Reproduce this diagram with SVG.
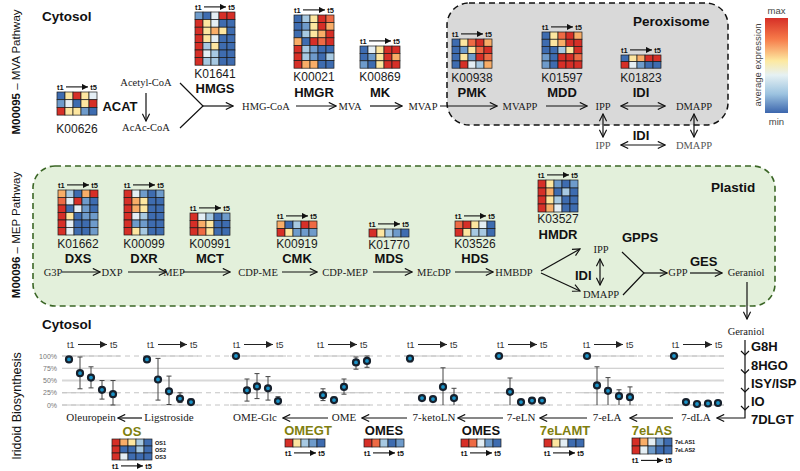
<svg xmlns="http://www.w3.org/2000/svg" width="800" height="471" viewBox="0 0 800 471">
<defs>
<style>
.R{fill:#d62f27}.O{fill:#ee6a44}.o{fill:#f8ad68}.Y{fill:#fde6a0}.W{fill:#e4eef4}.L{fill:#a7c9e2}.M{fill:#6e9bcb}.B{fill:#3e6cb0}
.hm rect{stroke:#1a1a1a;stroke-width:0.7}
.cmp{font-family:"Liberation Serif","Times New Roman",serif;font-size:10.5px;fill:#1a1a1a;text-anchor:middle}
.cmp2{font-family:"Liberation Serif","Times New Roman",serif;font-size:11px;fill:#1a1a1a;text-anchor:middle}
.gr{fill:#555}
.k{font-family:"Liberation Sans",Arial,sans-serif;font-size:12px;fill:#1a1a1a;text-anchor:middle}
.enz{font-family:"Liberation Sans",Arial,sans-serif;font-size:13px;font-weight:bold;fill:#111;text-anchor:middle}
.enzl{font-family:"Liberation Sans",Arial,sans-serif;font-size:13px;font-weight:bold;fill:#111}
.olive{fill:#7f7f0f}
.ttl{font-family:"Liberation Sans",Arial,sans-serif;font-size:13.5px;font-weight:bold;fill:#111}
.vt{font-family:"Liberation Sans",Arial,sans-serif;font-size:11.5px;fill:#111;text-anchor:middle}
.hd{font-family:"Liberation Sans",Arial,sans-serif;font-size:7.5px;font-weight:bold;fill:#111}
.sm{font-family:"Liberation Sans",Arial,sans-serif;font-size:5.5px;font-weight:bold;fill:#111}
.ph{font-family:"Liberation Sans",Arial,sans-serif;font-size:9px;fill:#333}
.ax{font-family:"Liberation Sans",Arial,sans-serif;font-size:7px;fill:#777;text-anchor:end}
.lg{font-family:"Liberation Sans",Arial,sans-serif;font-size:9.5px;fill:#444;text-anchor:middle}
.a{fill:none;stroke:#111;stroke-width:1.2;marker-end:url(#ah)}
.a2{fill:none;stroke:#111;stroke-width:1.2;marker-end:url(#ah);marker-start:url(#ah)}
.ln{fill:none;stroke:#111;stroke-width:1.2}
.pt{fill:#1a93c8;stroke:#17202c;stroke-width:2.2}
.eb{fill:none;stroke:#444;stroke-width:1}
.gd{fill:none;stroke:#c4c4c4;stroke-width:1}
.gdd{fill:none;stroke:#c4c4c4;stroke-width:1;stroke-dasharray:5 4}
</style>
<marker id="ah" viewBox="0 0 10 10" refX="9" refY="5" markerWidth="9" markerHeight="9" markerUnits="userSpaceOnUse" orient="auto-start-reverse"><path d="M1,1 L9,5 L1,9" fill="none" stroke="#111" stroke-width="1.3"/></marker>
<marker id="tri" viewBox="0 0 10 10" refX="10" refY="5" markerWidth="6" markerHeight="6" markerUnits="userSpaceOnUse" orient="auto"><path d="M0,0 L10,5 L0,10z" fill="#111"/></marker>
<marker id="tri2" viewBox="0 0 10 10" refX="10" refY="5" markerWidth="7" markerHeight="7" markerUnits="userSpaceOnUse" orient="auto"><path d="M0,0 L10,5 L0,10z" fill="#222"/></marker>
<g id="hh"><text class="hd" x="0" y="0">t1</text><line x1="9" y1="-2.6" x2="31" y2="-2.6" stroke="#111" stroke-width="1.1" marker-end="url(#tri)"/><text class="hd" x="40" y="0" text-anchor="end">t5</text></g>
<g id="ph"><text class="ph" x="0" y="0">t1</text><line x1="11" y1="-3" x2="40" y2="-3" stroke="#222" stroke-width="1" marker-end="url(#tri2)"/><text class="ph" x="43" y="0">t5</text></g>
<linearGradient id="cb" x1="0" y1="0" x2="0" y2="1">
<stop offset="0" stop-color="#d62f27"/><stop offset="0.22" stop-color="#f67a49"/><stop offset="0.45" stop-color="#fde9a0"/><stop offset="0.6" stop-color="#e6f1f3"/><stop offset="0.8" stop-color="#9cc3e0"/><stop offset="1" stop-color="#3c66ad"/>
</linearGradient>
</defs>
<rect width="800" height="471" fill="#fff"/>

<!-- compartments -->
<g id="peroxisome">
<rect x="447" y="3" width="281" height="122" rx="22" fill="#d9d9d9" stroke="#111" stroke-width="1.5" stroke-dasharray="6 4"/>
<text class="ttl" x="633" y="26">Peroxisome</text>
</g>
<g id="plastid">
<rect x="33" y="166" width="742" height="140" rx="22" fill="#e3f0db" stroke="#3b6626" stroke-width="1.6" stroke-dasharray="6 4"/>
<text class="ttl" x="711" y="192">Plastid</text>
</g>
<g id="labels">
<text class="ttl" x="42" y="21">Cytosol</text>
<text class="ttl" x="42" y="328.5">Cytosol</text>
<text class="vt" transform="translate(19.5,72) rotate(-90)"><tspan font-weight="bold">M00095</tspan> – MVA Pathway</text>
<text class="vt" transform="translate(19.5,235) rotate(-90)"><tspan font-weight="bold">M00096</tspan> – MEP Pathway</text>
<text class="vt" style="font-size:12.5px" transform="translate(21,406) rotate(-90)">Iridoid Biosynthesis</text>
</g>

<!-- legend -->
<g id="legend">
<rect x="765" y="18" width="23" height="95" fill="url(#cb)"/>
<text class="lg" x="776.5" y="14">max</text>
<text class="lg" x="776.5" y="125">min</text>
<text class="lg" transform="translate(761,65) rotate(-90)">average expression</text>
</g>

<!-- connectors -->
<g id="connectors">
<path class="a" d="M146,93 V121"/>
<path class="ln" d="M180,83 L203,106 L180,128"/>
<path class="a" d="M203,106 H233"/>
<path class="a" d="M296,106 H336"/>
<path class="a" d="M370,106 H402"/>
<path class="a" d="M440,106 H497"/>
<path class="a" d="M546,106 H587"/>
<path class="a2" d="M621,106 H665"/>
<path class="a2" d="M603,114 V137"/>
<path class="a2" d="M694,114 V137"/>
<path class="a2" d="M621,145 H665"/>
<path class="a" d="M62,272 H100"/>
<path class="a" d="M128,272 H166"/>
<path class="a" d="M183,272 H230"/>
<path class="a" d="M282,272 H317"/>
<path class="a" d="M373,272 H412"/>
<path class="a" d="M455,272 H493"/>
<path class="a" d="M541,271 L580,249"/>
<path class="a" d="M541,273 L580,291"/>
<path class="a2" d="M600,259 V285"/>
<path class="ln" d="M622,252 L644,273 L623,295"/>
<path class="a" d="M644,273 H667"/>
<path class="a" d="M690,273 H722"/>
<path class="a" d="M747,282 V319"/>
<path class="a" d="M142,418 H118"/>
<path class="a" d="M328,418 H283"/>
<path class="a" d="M407,418 H362"/>
<path class="a" d="M503,418 H458"/>
<path class="a" d="M587,418 H540"/>
<path class="a" d="M673,418 H630"/>
<path class="a" d="M745,340 V418 H717"/>
<path class="ln" d="M741,351 L745,355 L749,351 M741,369.5 L745,373.5 L749,369.5 M741,388 L745,392 L749,388 M741,406 L745,410 L749,406"/>
</g>

<!-- MVA compounds -->
<g id="acetylcoa"><text class="cmp" x="146" y="86">Acetyl-CoA</text></g>
<g id="acaccoa"><text class="cmp" x="146" y="131">AcAc-CoA</text></g>
<g id="hmgcoa"><text class="cmp" x="266" y="109.5">HMG-CoA</text></g>
<g id="mva"><text class="cmp" x="350" y="109.5">MVA</text></g>
<g id="mvap"><text class="cmp" x="423" y="109.5">MVAP</text></g>
<g id="mvapp"><text class="cmp" x="520" y="109.5">MVAPP</text></g>
<g id="ipp_per"><text class="cmp" x="603" y="109.5">IPP</text></g>
<g id="dmapp_per"><text class="cmp" x="694" y="109.5">DMAPP</text></g>
<g id="ipp_cyt"><text class="cmp gr" x="603" y="148.5">IPP</text></g>
<g id="dmapp_cyt"><text class="cmp gr" x="694" y="148.5">DMAPP</text></g>
<g id="idi_cyt"><text class="enz" x="641" y="140">IDI</text></g>

<!-- MVA enzymes -->
<g id="acat">
<use href="#hh" x="57" y="89.5"/>
<g class="hm" transform="translate(57,92)">
<rect x="0" y="0" width="8" height="7.7" class="B"/><rect x="8" y="0" width="8" height="7.7" class="Y"/><rect x="16" y="0" width="8" height="7.7" class="R"/><rect x="24" y="0" width="8" height="7.7" class="Y"/><rect x="32" y="0" width="8" height="7.7" class="W"/>
<rect x="0" y="7.7" width="8" height="7.7" class="M"/><rect x="8" y="7.7" width="8" height="7.7" class="W"/><rect x="16" y="7.7" width="8" height="7.7" class="B"/><rect x="24" y="7.7" width="8" height="7.7" class="Y"/><rect x="32" y="7.7" width="8" height="7.7" class="R"/>
<rect x="0" y="15.4" width="8" height="7.7" class="R"/><rect x="8" y="15.4" width="8" height="7.7" class="Y"/><rect x="16" y="15.4" width="8" height="7.7" class="Y"/><rect x="24" y="15.4" width="8" height="7.7" class="M"/><rect x="32" y="15.4" width="8" height="7.7" class="B"/>
</g>
<text class="k" x="77" y="133">K00626</text>
<text class="enz" x="120" y="111">ACAT</text>
</g>

<g id="hmgs">
<use href="#hh" x="195" y="9.5"/>
<g class="hm" transform="translate(195,12)">
<rect x="0" y="0" width="8" height="7.6" class="M"/><rect x="8" y="0" width="8" height="7.6" class="B"/><rect x="16" y="0" width="8" height="7.6" class="W"/><rect x="24" y="0" width="8" height="7.6" class="R"/><rect x="32" y="0" width="8" height="7.6" class="R"/>
<rect x="0" y="7.6" width="8" height="7.6" class="R"/><rect x="8" y="7.6" width="8" height="7.6" class="Y"/><rect x="16" y="7.6" width="8" height="7.6" class="W"/><rect x="24" y="7.6" width="8" height="7.6" class="B"/><rect x="32" y="7.6" width="8" height="7.6" class="B"/>
<rect x="0" y="15.2" width="8" height="7.6" class="R"/><rect x="8" y="15.2" width="8" height="7.6" class="Y"/><rect x="16" y="15.2" width="8" height="7.6" class="o"/><rect x="24" y="15.2" width="8" height="7.6" class="Y"/><rect x="32" y="15.2" width="8" height="7.6" class="B"/>
<rect x="0" y="22.8" width="8" height="7.6" class="R"/><rect x="8" y="22.8" width="8" height="7.6" class="Y"/><rect x="16" y="22.8" width="8" height="7.6" class="W"/><rect x="24" y="22.8" width="8" height="7.6" class="B"/><rect x="32" y="22.8" width="8" height="7.6" class="B"/>
<rect x="0" y="30.4" width="8" height="7.6" class="R"/><rect x="8" y="30.4" width="8" height="7.6" class="L"/><rect x="16" y="30.4" width="8" height="7.6" class="Y"/><rect x="24" y="30.4" width="8" height="7.6" class="B"/><rect x="32" y="30.4" width="8" height="7.6" class="B"/>
<rect x="0" y="38" width="8" height="7.6" class="R"/><rect x="8" y="38" width="8" height="7.6" class="W"/><rect x="16" y="38" width="8" height="7.6" class="L"/><rect x="24" y="38" width="8" height="7.6" class="B"/><rect x="32" y="38" width="8" height="7.6" class="B"/>
<rect x="0" y="45.6" width="8" height="7.6" class="R"/><rect x="8" y="45.6" width="8" height="7.6" class="L"/><rect x="16" y="45.6" width="8" height="7.6" class="L"/><rect x="24" y="45.6" width="8" height="7.6" class="B"/><rect x="32" y="45.6" width="8" height="7.6" class="B"/>
</g>
<text class="k" x="215" y="78">K01641</text>
<text class="enz" x="215" y="93">HMGS</text>
</g>

<g id="hmgr">
<use href="#hh" x="294" y="12.5"/>
<g class="hm" transform="translate(294,15)">
<rect x="0" y="0" width="8" height="7.6" class="B"/><rect x="8" y="0" width="8" height="7.6" class="L"/><rect x="16" y="0" width="8" height="7.6" class="Y"/><rect x="24" y="0" width="8" height="7.6" class="R"/><rect x="32" y="0" width="8" height="7.6" class="O"/>
<rect x="0" y="7.6" width="8" height="7.6" class="B"/><rect x="8" y="7.6" width="8" height="7.6" class="M"/><rect x="16" y="7.6" width="8" height="7.6" class="Y"/><rect x="24" y="7.6" width="8" height="7.6" class="R"/><rect x="32" y="7.6" width="8" height="7.6" class="o"/>
<rect x="0" y="15.2" width="8" height="7.6" class="B"/><rect x="8" y="15.2" width="8" height="7.6" class="L"/><rect x="16" y="15.2" width="8" height="7.6" class="Y"/><rect x="24" y="15.2" width="8" height="7.6" class="o"/><rect x="32" y="15.2" width="8" height="7.6" class="R"/>
<rect x="0" y="22.8" width="8" height="7.6" class="o"/><rect x="8" y="22.8" width="8" height="7.6" class="B"/><rect x="16" y="22.8" width="8" height="7.6" class="R"/><rect x="24" y="22.8" width="8" height="7.6" class="O"/><rect x="32" y="22.8" width="8" height="7.6" class="R"/>
<rect x="0" y="30.4" width="8" height="7.6" class="R"/><rect x="8" y="30.4" width="8" height="7.6" class="L"/><rect x="16" y="30.4" width="8" height="7.6" class="M"/><rect x="24" y="30.4" width="8" height="7.6" class="B"/><rect x="32" y="30.4" width="8" height="7.6" class="B"/>
<rect x="0" y="38" width="8" height="7.6" class="R"/><rect x="8" y="38" width="8" height="7.6" class="L"/><rect x="16" y="38" width="8" height="7.6" class="M"/><rect x="24" y="38" width="8" height="7.6" class="B"/><rect x="32" y="38" width="8" height="7.6" class="L"/>
<rect x="0" y="45.6" width="8" height="7.6" class="R"/><rect x="8" y="45.6" width="8" height="7.6" class="o"/><rect x="16" y="45.6" width="8" height="7.6" class="o"/><rect x="24" y="45.6" width="8" height="7.6" class="B"/><rect x="32" y="45.6" width="8" height="7.6" class="B"/>
</g>
<text class="k" x="314" y="81">K00021</text>
<text class="enz" x="314" y="96.5">HMGR</text>
</g>

<g id="mk">
<use href="#hh" x="360" y="43.5"/>
<g class="hm" transform="translate(360,46)">
<rect x="0" y="0" width="8" height="7.4" class="B"/><rect x="8" y="0" width="8" height="7.4" class="W"/><rect x="16" y="0" width="8" height="7.4" class="Y"/><rect x="24" y="0" width="8" height="7.4" class="R"/><rect x="32" y="0" width="8" height="7.4" class="R"/>
<rect x="0" y="7.4" width="8" height="7.4" class="B"/><rect x="8" y="7.4" width="8" height="7.4" class="M"/><rect x="16" y="7.4" width="8" height="7.4" class="Y"/><rect x="24" y="7.4" width="8" height="7.4" class="R"/><rect x="32" y="7.4" width="8" height="7.4" class="o"/>
<rect x="0" y="14.8" width="8" height="7.4" class="M"/><rect x="8" y="14.8" width="8" height="7.4" class="B"/><rect x="16" y="14.8" width="8" height="7.4" class="Y"/><rect x="24" y="14.8" width="8" height="7.4" class="R"/><rect x="32" y="14.8" width="8" height="7.4" class="R"/>
</g>
<text class="k" x="380" y="81">K00869</text>
<text class="enz" x="380" y="96.5">MK</text>
</g>

<g id="pmk">
<use href="#hh" x="452" y="36.5"/>
<g class="hm" transform="translate(452,39)">
<rect x="0" y="0" width="8" height="7.3" class="B"/><rect x="8" y="0" width="8" height="7.3" class="Y"/><rect x="16" y="0" width="8" height="7.3" class="O"/><rect x="24" y="0" width="8" height="7.3" class="R"/><rect x="32" y="0" width="8" height="7.3" class="o"/>
<rect x="0" y="7.3" width="8" height="7.3" class="B"/><rect x="8" y="7.3" width="8" height="7.3" class="M"/><rect x="16" y="7.3" width="8" height="7.3" class="Y"/><rect x="24" y="7.3" width="8" height="7.3" class="O"/><rect x="32" y="7.3" width="8" height="7.3" class="R"/>
<rect x="0" y="14.6" width="8" height="7.3" class="B"/><rect x="8" y="14.6" width="8" height="7.3" class="Y"/><rect x="16" y="14.6" width="8" height="7.3" class="M"/><rect x="24" y="14.6" width="8" height="7.3" class="R"/><rect x="32" y="14.6" width="8" height="7.3" class="O"/>
<rect x="0" y="21.9" width="8" height="7.3" class="B"/><rect x="8" y="21.9" width="8" height="7.3" class="R"/><rect x="16" y="21.9" width="8" height="7.3" class="W"/><rect x="24" y="21.9" width="8" height="7.3" class="L"/><rect x="32" y="21.9" width="8" height="7.3" class="o"/>
</g>
<text class="k" x="472" y="81.5">K00938</text>
<text class="enz" x="472" y="97">PMK</text>
</g>

<g id="mdd">
<use href="#hh" x="542" y="29.5"/>
<g class="hm" transform="translate(542,32)">
<rect x="0" y="0" width="8" height="7.25" class="B"/><rect x="8" y="0" width="8" height="7.25" class="Y"/><rect x="16" y="0" width="8" height="7.25" class="O"/><rect x="24" y="0" width="8" height="7.25" class="R"/><rect x="32" y="0" width="8" height="7.25" class="o"/>
<rect x="0" y="7.25" width="8" height="7.25" class="B"/><rect x="8" y="7.25" width="8" height="7.25" class="Y"/><rect x="16" y="7.25" width="8" height="7.25" class="o"/><rect x="24" y="7.25" width="8" height="7.25" class="R"/><rect x="32" y="7.25" width="8" height="7.25" class="R"/>
<rect x="0" y="14.5" width="8" height="7.25" class="B"/><rect x="8" y="14.5" width="8" height="7.25" class="B"/><rect x="16" y="14.5" width="8" height="7.25" class="L"/><rect x="24" y="14.5" width="8" height="7.25" class="Y"/><rect x="32" y="14.5" width="8" height="7.25" class="R"/>
<rect x="0" y="21.75" width="8" height="7.25" class="M"/><rect x="8" y="21.75" width="8" height="7.25" class="B"/><rect x="16" y="21.75" width="8" height="7.25" class="R"/><rect x="24" y="21.75" width="8" height="7.25" class="R"/><rect x="32" y="21.75" width="8" height="7.25" class="O"/>
<rect x="0" y="29" width="8" height="7.25" class="M"/><rect x="8" y="29" width="8" height="7.25" class="B"/><rect x="16" y="29" width="8" height="7.25" class="R"/><rect x="24" y="29" width="8" height="7.25" class="R"/><rect x="32" y="29" width="8" height="7.25" class="R"/>
</g>
<text class="k" x="562" y="81.5">K01597</text>
<text class="enz" x="562" y="97">MDD</text>
</g>

<g id="idi_per">
<use href="#hh" x="621" y="52.5"/>
<g class="hm" transform="translate(621,55)">
<rect x="0" y="0" width="8" height="6.6" class="B"/><rect x="8" y="0" width="8" height="6.6" class="Y"/><rect x="16" y="0" width="8" height="6.6" class="o"/><rect x="24" y="0" width="8" height="6.6" class="R"/><rect x="32" y="0" width="8" height="6.6" class="R"/>
<rect x="0" y="6.6" width="8" height="6.6" class="R"/><rect x="8" y="6.6" width="8" height="6.6" class="W"/><rect x="16" y="6.6" width="8" height="6.6" class="M"/><rect x="24" y="6.6" width="8" height="6.6" class="B"/><rect x="32" y="6.6" width="8" height="6.6" class="B"/>
</g>
<text class="k" x="641" y="81.5">K01823</text>
<text class="enz" x="641" y="97">IDI</text>
</g>

<!-- MEP compounds -->
<g id="g3p"><text class="cmp" x="53" y="276">G3P</text></g>
<g id="dxp"><text class="cmp" x="112" y="276">DXP</text></g>
<g id="mep"><text class="cmp" x="174" y="276">MEP</text></g>
<g id="cdpme"><text class="cmp" x="258" y="276">CDP-ME</text></g>
<g id="cdpmep"><text class="cmp" x="345" y="276">CDP-MEP</text></g>
<g id="mecdp"><text class="cmp" x="434" y="276">MEcDP</text></g>
<g id="hmbdp"><text class="cmp" x="514" y="276">HMBDP</text></g>
<g id="ipp_pl"><text class="cmp" x="601" y="253">IPP</text></g>
<g id="dmapp_pl"><text class="cmp" x="601" y="298">DMAPP</text></g>
<g id="idi_pl"><text class="enzl" x="575" y="280">IDI</text></g>
<g id="gpps"><text class="enzl" x="622" y="242">GPPS</text></g>
<g id="gpp"><text class="cmp" x="678" y="276">GPP</text></g>
<g id="ges"><text class="enzl" x="690" y="266">GES</text></g>
<g id="geraniol_pl"><text class="cmp" x="746" y="276">Geraniol</text></g>

<!-- MEP enzymes -->
<g id="dxs">
<use href="#hh" x="58" y="187.5"/>
<g class="hm" transform="translate(58,190)">
<rect x="0" y="0" width="8" height="7.5" class="o"/><rect x="8" y="0" width="8" height="7.5" class="L"/><rect x="16" y="0" width="8" height="7.5" class="B"/><rect x="24" y="0" width="8" height="7.5" class="o"/><rect x="32" y="0" width="8" height="7.5" class="R"/>
<rect x="0" y="7.5" width="8" height="7.5" class="O"/><rect x="8" y="7.5" width="8" height="7.5" class="W"/><rect x="16" y="7.5" width="8" height="7.5" class="R"/><rect x="24" y="7.5" width="8" height="7.5" class="M"/><rect x="32" y="7.5" width="8" height="7.5" class="B"/>
<rect x="0" y="15" width="8" height="7.5" class="R"/><rect x="8" y="15" width="8" height="7.5" class="B"/><rect x="16" y="15" width="8" height="7.5" class="W"/><rect x="24" y="15" width="8" height="7.5" class="M"/><rect x="32" y="15" width="8" height="7.5" class="B"/>
<rect x="0" y="22.5" width="8" height="7.5" class="R"/><rect x="8" y="22.5" width="8" height="7.5" class="Y"/><rect x="16" y="22.5" width="8" height="7.5" class="B"/><rect x="24" y="22.5" width="8" height="7.5" class="M"/><rect x="32" y="22.5" width="8" height="7.5" class="M"/>
<rect x="0" y="30" width="8" height="7.5" class="R"/><rect x="8" y="30" width="8" height="7.5" class="W"/><rect x="16" y="30" width="8" height="7.5" class="B"/><rect x="24" y="30" width="8" height="7.5" class="B"/><rect x="32" y="30" width="8" height="7.5" class="M"/>
<rect x="0" y="37.5" width="8" height="7.5" class="R"/><rect x="8" y="37.5" width="8" height="7.5" class="W"/><rect x="16" y="37.5" width="8" height="7.5" class="B"/><rect x="24" y="37.5" width="8" height="7.5" class="B"/><rect x="32" y="37.5" width="8" height="7.5" class="M"/>
</g>
<text class="k" x="78" y="248">K01662</text>
<text class="enz" x="78" y="263">DXS</text>
</g>

<g id="dxr">
<use href="#hh" x="124" y="187.5"/>
<g class="hm" transform="translate(124,190)">
<rect x="0" y="0" width="8" height="7.5" class="R"/><rect x="8" y="0" width="8" height="7.5" class="W"/><rect x="16" y="0" width="8" height="7.5" class="M"/><rect x="24" y="0" width="8" height="7.5" class="B"/><rect x="32" y="0" width="8" height="7.5" class="M"/>
<rect x="0" y="7.5" width="8" height="7.5" class="R"/><rect x="8" y="7.5" width="8" height="7.5" class="o"/><rect x="16" y="7.5" width="8" height="7.5" class="Y"/><rect x="24" y="7.5" width="8" height="7.5" class="B"/><rect x="32" y="7.5" width="8" height="7.5" class="B"/>
<rect x="0" y="15" width="8" height="7.5" class="R"/><rect x="8" y="15" width="8" height="7.5" class="o"/><rect x="16" y="15" width="8" height="7.5" class="Y"/><rect x="24" y="15" width="8" height="7.5" class="B"/><rect x="32" y="15" width="8" height="7.5" class="B"/>
<rect x="0" y="22.5" width="8" height="7.5" class="R"/><rect x="8" y="22.5" width="8" height="7.5" class="W"/><rect x="16" y="22.5" width="8" height="7.5" class="L"/><rect x="24" y="22.5" width="8" height="7.5" class="B"/><rect x="32" y="22.5" width="8" height="7.5" class="B"/>
<rect x="0" y="30" width="8" height="7.5" class="R"/><rect x="8" y="30" width="8" height="7.5" class="M"/><rect x="16" y="30" width="8" height="7.5" class="M"/><rect x="24" y="30" width="8" height="7.5" class="B"/><rect x="32" y="30" width="8" height="7.5" class="B"/>
<rect x="0" y="37.5" width="8" height="7.5" class="R"/><rect x="8" y="37.5" width="8" height="7.5" class="Y"/><rect x="16" y="37.5" width="8" height="7.5" class="L"/><rect x="24" y="37.5" width="8" height="7.5" class="B"/><rect x="32" y="37.5" width="8" height="7.5" class="B"/>
</g>
<text class="k" x="144" y="248">K00099</text>
<text class="enz" x="144" y="263">DXR</text>
</g>

<g id="mct">
<use href="#hh" x="190" y="210.5"/>
<g class="hm" transform="translate(190,213)">
<rect x="0" y="0" width="8" height="7.4" class="R"/><rect x="8" y="0" width="8" height="7.4" class="W"/><rect x="16" y="0" width="8" height="7.4" class="L"/><rect x="24" y="0" width="8" height="7.4" class="B"/><rect x="32" y="0" width="8" height="7.4" class="M"/>
<rect x="0" y="7.4" width="8" height="7.4" class="R"/><rect x="8" y="7.4" width="8" height="7.4" class="o"/><rect x="16" y="7.4" width="8" height="7.4" class="Y"/><rect x="24" y="7.4" width="8" height="7.4" class="B"/><rect x="32" y="7.4" width="8" height="7.4" class="B"/>
<rect x="0" y="14.8" width="8" height="7.4" class="R"/><rect x="8" y="14.8" width="8" height="7.4" class="O"/><rect x="16" y="14.8" width="8" height="7.4" class="Y"/><rect x="24" y="14.8" width="8" height="7.4" class="B"/><rect x="32" y="14.8" width="8" height="7.4" class="B"/>
</g>
<text class="k" x="210" y="248">K00991</text>
<text class="enz" x="210" y="263">MCT</text>
</g>

<g id="cmk">
<use href="#hh" x="277" y="218.5"/>
<g class="hm" transform="translate(277,221)">
<rect x="0" y="0" width="8" height="7.6" class="o"/><rect x="8" y="0" width="8" height="7.6" class="B"/><rect x="16" y="0" width="8" height="7.6" class="L"/><rect x="24" y="0" width="8" height="7.6" class="R"/><rect x="32" y="0" width="8" height="7.6" class="O"/>
<rect x="0" y="7.6" width="8" height="7.6" class="R"/><rect x="8" y="7.6" width="8" height="7.6" class="Y"/><rect x="16" y="7.6" width="8" height="7.6" class="M"/><rect x="24" y="7.6" width="8" height="7.6" class="M"/><rect x="32" y="7.6" width="8" height="7.6" class="M"/>
</g>
<text class="k" x="297" y="248">K00919</text>
<text class="enz" x="297" y="263">CMK</text>
</g>

<g id="mds">
<use href="#hh" x="369" y="226.5"/>
<g class="hm" transform="translate(369,229)">
<rect x="0" y="0" width="8" height="8" class="R"/><rect x="8" y="0" width="8" height="8" class="Y"/><rect x="16" y="0" width="8" height="8" class="L"/><rect x="24" y="0" width="8" height="8" class="M"/><rect x="32" y="0" width="8" height="8" class="B"/>
</g>
<text class="k" x="389" y="249">K01770</text>
<text class="enz" x="389" y="263">MDS</text>
</g>

<g id="hds">
<use href="#hh" x="455" y="218.5"/>
<g class="hm" transform="translate(455,221)">
<rect x="0" y="0" width="8" height="7.6" class="O"/><rect x="8" y="0" width="8" height="7.6" class="R"/><rect x="16" y="0" width="8" height="7.6" class="Y"/><rect x="24" y="0" width="8" height="7.6" class="W"/><rect x="32" y="0" width="8" height="7.6" class="B"/>
<rect x="0" y="7.6" width="8" height="7.6" class="R"/><rect x="8" y="7.6" width="8" height="7.6" class="Y"/><rect x="16" y="7.6" width="8" height="7.6" class="L"/><rect x="24" y="7.6" width="8" height="7.6" class="L"/><rect x="32" y="7.6" width="8" height="7.6" class="B"/>
</g>
<text class="k" x="475" y="248">K03526</text>
<text class="enz" x="475" y="263">HDS</text>
</g>

<g id="hmdr">
<use href="#hh" x="538" y="177.5"/>
<g class="hm" transform="translate(538,180)">
<rect x="0" y="0" width="8" height="8" class="R"/><rect x="8" y="0" width="8" height="8" class="Y"/><rect x="16" y="0" width="8" height="8" class="M"/><rect x="24" y="0" width="8" height="8" class="B"/><rect x="32" y="0" width="8" height="8" class="M"/>
<rect x="0" y="8" width="8" height="8" class="R"/><rect x="8" y="8" width="8" height="8" class="o"/><rect x="16" y="8" width="8" height="8" class="B"/><rect x="24" y="8" width="8" height="8" class="L"/><rect x="32" y="8" width="8" height="8" class="B"/>
<rect x="0" y="16" width="8" height="8" class="R"/><rect x="8" y="16" width="8" height="8" class="Y"/><rect x="16" y="16" width="8" height="8" class="L"/><rect x="24" y="16" width="8" height="8" class="B"/><rect x="32" y="16" width="8" height="8" class="B"/>
<rect x="0" y="24" width="8" height="8" class="R"/><rect x="8" y="24" width="8" height="8" class="o"/><rect x="16" y="24" width="8" height="8" class="W"/><rect x="24" y="24" width="8" height="8" class="B"/><rect x="32" y="24" width="8" height="8" class="B"/>
</g>
<text class="k" x="558" y="223">K03527</text>
<text class="enz" x="558" y="239">HMDR</text>
</g>

<!-- Iridoid chain enzymes -->
<g id="chain_enz">
<text class="enzl" x="751" y="351">G8H</text>
<text class="enzl" x="751" y="369.5">8HGO</text>
<text class="enzl" x="751" y="388">ISY/ISP</text>
<text class="enzl" x="751" y="406">IO</text>
<text class="enzl" x="751" y="424">7DLGT</text>
</g>
<g id="geraniol_cyt"><text class="cmp" x="746" y="335">Geraniol</text></g>

<!-- plots -->
<g id="plots">
<path class="gdd" d="M62,356 H724 M62,392.75 H724 M62,405 H724"/>
<path class="gd" d="M62,356 H120 M143,356 H198 M230,356 H286 M314,356 H370 M404,356 H461 M494,356 H550 M580,356 H637 M668,356 H724 M62,392.75 H120 M143,392.75 H198 M230,392.75 H286 M314,392.75 H370 M404,392.75 H461 M494,392.75 H550 M580,392.75 H637 M668,392.75 H724 M62,405 H120 M143,405 H198 M230,405 H286 M314,405 H370 M404,405 H461 M494,405 H550 M580,405 H637 M668,405 H724 M62,368.25 H724"/>
<path d="M62,380.5 H724" fill="none" stroke="#d8d8d8" stroke-width="2"/>
<text class="ax" x="57" y="358.5">100%</text>
<text class="ax" x="57" y="370.75">75%</text>
<text class="ax" x="57" y="383">50%</text>
<text class="ax" x="57" y="395.25">25%</text>
<text class="ax" x="57" y="407.5">0%</text>
<use href="#ph" x="67" y="347.5"/>
<use href="#ph" x="147" y="347.5"/>
<use href="#ph" x="233" y="347.5"/>
<use href="#ph" x="317" y="347.5"/>
<use href="#ph" x="407" y="347.5"/>
<use href="#ph" x="497" y="347.5"/>
<use href="#ph" x="583" y="347.5"/>
<use href="#ph" x="672" y="347.5"/>
<path class="eb" d="M69,357.5V361.9M66.5,357.5h5M66.5,361.9h5 M80,357V388.8M77.5,357h5M77.5,388.8h5 M91,366.8V387.9M88.5,366.8h5M88.5,387.9h5 M102,380.5V399.1M99.5,380.5h5M99.5,399.1h5 M113,380.5V405M110.5,380.5h5M110.5,405h5
M147,357.5V361.9M144.5,357.5h5M144.5,361.9h5 M158,358.4V400.1M155.5,358.4h5M155.5,400.1h5 M169,376.1V404.5M166.5,376.1h5M166.5,404.5h5 M180,392.8V402.6M177.5,392.8h5M177.5,402.6h5 M191,399.1V404M188.5,399.1h5M188.5,404h5
M247,379V401.1M244.5,379h5M244.5,401.1h5 M257,373.6V398.6M254.5,373.6h5M254.5,398.6h5 M268,376.6V400.1M265.5,376.6h5M265.5,400.1h5 M278,396.7V403.5M275.5,396.7h5M275.5,403.5h5
M323,388.8V400.6M320.5,388.8h5M320.5,400.6h5 M334,397.2V402.6M331.5,397.2h5M331.5,402.6h5 M344,379V394.2M341.5,379h5M341.5,394.2h5 M356,357V369.2M353.5,357h5M353.5,369.2h5 M367,356V367.3M364.5,356h5M364.5,367.3h5
M410,356.5V361.9M407.5,356.5h5M407.5,361.9h5 M443,367.8V405M440.5,367.8h5 M454,388.3V405M451.5,388.3h5
M510,378V405M507.5,378h5 M532,398.1V402.6M529.5,398.1h5M529.5,402.6h5 M542,398.1V402.6M539.5,398.1h5M539.5,402.6h5
M597,366.8V405M594.5,366.8h5 M608,377.6V405M605.5,377.6h5 M619,389.8V405M616.5,389.8h5 M630,386.9V405M627.5,386.9h5"/>
<g class="pts">
<circle class="pt" cx="69" cy="359.4" r="3"/><circle class="pt" cx="80" cy="373.2" r="3"/><circle class="pt" cx="91" cy="377.6" r="3"/><circle class="pt" cx="102" cy="389.8" r="3"/><circle class="pt" cx="113" cy="394.2" r="3"/>
<circle class="pt" cx="147" cy="359.4" r="3"/><circle class="pt" cx="158" cy="379.5" r="3"/><circle class="pt" cx="169" cy="391.3" r="3"/><circle class="pt" cx="180" cy="398.6" r="3"/><circle class="pt" cx="191" cy="402.1" r="3"/>
<circle class="pt" cx="236" cy="356" r="3"/><circle class="pt" cx="247" cy="390.3" r="3"/><circle class="pt" cx="257" cy="386.4" r="3"/><circle class="pt" cx="268" cy="388.3" r="3"/><circle class="pt" cx="278" cy="401.1" r="3"/>
<circle class="pt" cx="323" cy="395.2" r="3"/><circle class="pt" cx="334" cy="400.1" r="3"/><circle class="pt" cx="344" cy="386.9" r="3"/><circle class="pt" cx="356" cy="362.4" r="3"/><circle class="pt" cx="367" cy="360.9" r="3"/>
<circle class="pt" cx="410" cy="358.5" r="3"/><circle class="pt" cx="422" cy="398.1" r="3"/><circle class="pt" cx="433" cy="399.1" r="3"/><circle class="pt" cx="443" cy="386.9" r="3"/><circle class="pt" cx="454" cy="398.1" r="3"/>
<circle class="pt" cx="499" cy="356" r="3"/><circle class="pt" cx="510" cy="391.8" r="3"/><circle class="pt" cx="521" cy="402.1" r="3"/><circle class="pt" cx="532" cy="400.6" r="3"/><circle class="pt" cx="542" cy="400.6" r="3"/>
<circle class="pt" cx="587" cy="356" r="3"/><circle class="pt" cx="597" cy="385.4" r="3"/><circle class="pt" cx="608" cy="390.8" r="3"/><circle class="pt" cx="619" cy="396.2" r="3"/><circle class="pt" cx="630" cy="397.2" r="3"/>
<circle class="pt" cx="674" cy="356" r="3"/><circle class="pt" cx="686" cy="402.1" r="3"/><circle class="pt" cx="697" cy="404" r="3"/><circle class="pt" cx="708" cy="403.5" r="3"/><circle class="pt" cx="718" cy="403" r="3"/>
</g>
</g>

<!-- Iridoid compounds -->
<g id="oleuropein"><text class="cmp2" x="91" y="421">Oleuropein</text></g>
<g id="ligstroside"><text class="cmp2" x="169" y="421">Ligstroside</text></g>
<g id="omeglc"><text class="cmp2" x="255" y="421">OME-Glc</text></g>
<g id="ome"><text class="cmp2" x="344" y="421">OME</text></g>
<g id="ketoln"><text class="cmp2" x="434" y="421">7-ketoLN</text></g>
<g id="eln"><text class="cmp2" x="521" y="421">7-eLN</text></g>
<g id="ela"><text class="cmp2" x="607" y="421">7-eLA</text></g>
<g id="dla"><text class="cmp2" x="696" y="421">7-dLA</text></g>

<!-- Iridoid enzymes -->
<g id="os">
<text class="enz olive" x="132" y="436">OS</text>
<g class="hm" transform="translate(112,439)">
<rect x="0" y="0" width="8" height="7" class="R"/><rect x="8" y="0" width="8" height="7" class="o"/><rect x="16" y="0" width="8" height="7" class="Y"/><rect x="24" y="0" width="8" height="7" class="L"/><rect x="32" y="0" width="8" height="7" class="B"/>
<rect x="0" y="7" width="8" height="7" class="R"/><rect x="8" y="7" width="8" height="7" class="B"/><rect x="16" y="7" width="8" height="7" class="B"/><rect x="24" y="7" width="8" height="7" class="L"/><rect x="32" y="7" width="8" height="7" class="B"/>
<rect x="0" y="14" width="8" height="7" class="R"/><rect x="8" y="14" width="8" height="7" class="W"/><rect x="16" y="14" width="8" height="7" class="B"/><rect x="24" y="14" width="8" height="7" class="B"/><rect x="32" y="14" width="8" height="7" class="B"/>
</g>
<text class="sm" x="155" y="444.5">OS1</text>
<text class="sm" x="155" y="451.5">OS2</text>
<text class="sm" x="155" y="458.5">OS3</text>
<use href="#hh" x="112" y="468.5"/>
</g>

<g id="omegt">
<text class="enz olive" x="308" y="435">OMEGT</text>
<g class="hm" transform="translate(285,439)">
<rect x="0" y="0" width="8" height="8" class="R"/><rect x="8" y="0" width="8" height="8" class="Y"/><rect x="16" y="0" width="8" height="8" class="L"/><rect x="24" y="0" width="8" height="8" class="M"/><rect x="32" y="0" width="8" height="8" class="B"/>
</g>
<use href="#hh" x="285" y="455.5"/>
</g>

<g id="omes1">
<text class="enz" x="384" y="435">OMES</text>
<g class="hm" transform="translate(364,439)">
<rect x="0" y="0" width="8" height="8" class="R"/><rect x="8" y="0" width="8" height="8" class="O"/><rect x="16" y="0" width="8" height="8" class="L"/><rect x="24" y="0" width="8" height="8" class="B"/><rect x="32" y="0" width="8" height="8" class="M"/>
</g>
<use href="#hh" x="364" y="455.5"/>
</g>

<g id="omes2">
<text class="enz" x="481" y="435">OMES</text>
<g class="hm" transform="translate(461,439)">
<rect x="0" y="0" width="8" height="8" class="R"/><rect x="8" y="0" width="8" height="8" class="O"/><rect x="16" y="0" width="8" height="8" class="W"/><rect x="24" y="0" width="8" height="8" class="M"/><rect x="32" y="0" width="8" height="8" class="B"/>
</g>
<use href="#hh" x="461" y="455.5"/>
</g>

<g id="elamt">
<text class="enz olive" x="565" y="435">7eLAMT</text>
<g class="hm" transform="translate(544,439)">
<rect x="0" y="0" width="8" height="8" class="R"/><rect x="8" y="0" width="8" height="8" class="Y"/><rect x="16" y="0" width="8" height="8" class="W"/><rect x="24" y="0" width="8" height="8" class="B"/><rect x="32" y="0" width="8" height="8" class="B"/>
</g>
<use href="#hh" x="544" y="455.5"/>
</g>

<g id="elas">
<text class="enz olive" x="652" y="435">7eLAS</text>
<g class="hm" transform="translate(632,438)">
<rect x="0" y="0" width="8" height="8" class="R"/><rect x="8" y="0" width="8" height="8" class="o"/><rect x="16" y="0" width="8" height="8" class="W"/><rect x="24" y="0" width="8" height="8" class="M"/><rect x="32" y="0" width="8" height="8" class="B"/>
<rect x="0" y="8" width="8" height="8" class="R"/><rect x="8" y="8" width="8" height="8" class="W"/><rect x="16" y="8" width="8" height="8" class="M"/><rect x="24" y="8" width="8" height="8" class="B"/><rect x="32" y="8" width="8" height="8" class="B"/>
</g>
<text class="sm" x="675" y="444">7eLAS1</text>
<text class="sm" x="675" y="452">7eLAS2</text>
<use href="#hh" x="632" y="463"/>
</g>
</svg>
